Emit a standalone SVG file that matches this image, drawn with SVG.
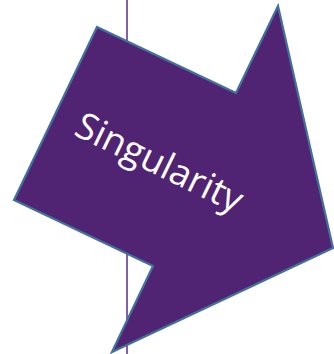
<svg xmlns="http://www.w3.org/2000/svg" width="334" height="354" viewBox="0 0 334 354">
<style>
.axis{stroke:#5b2d86;stroke-width:1.5;fill:none}
.arrow{fill:#512473;stroke:#41719c;stroke-width:2.2;stroke-linejoin:miter}
.label{font-family:"Open Sans","Noto Sans",sans-serif;font-size:37px;fill:#ffffff}
</style>
<g id="connectors">
<line class="axis" x1="127" y1="0" x2="127" y2="354"/>
</g>
<g id="singularity">
<polygon class="arrow" points="97,27 236,93 278,6 333,248 112,352 153,266 14,200"/>
<text class="label" x="0" y="0" text-anchor="middle" transform="translate(154,174) rotate(26)">Singularity</text>
</g>
</svg>
